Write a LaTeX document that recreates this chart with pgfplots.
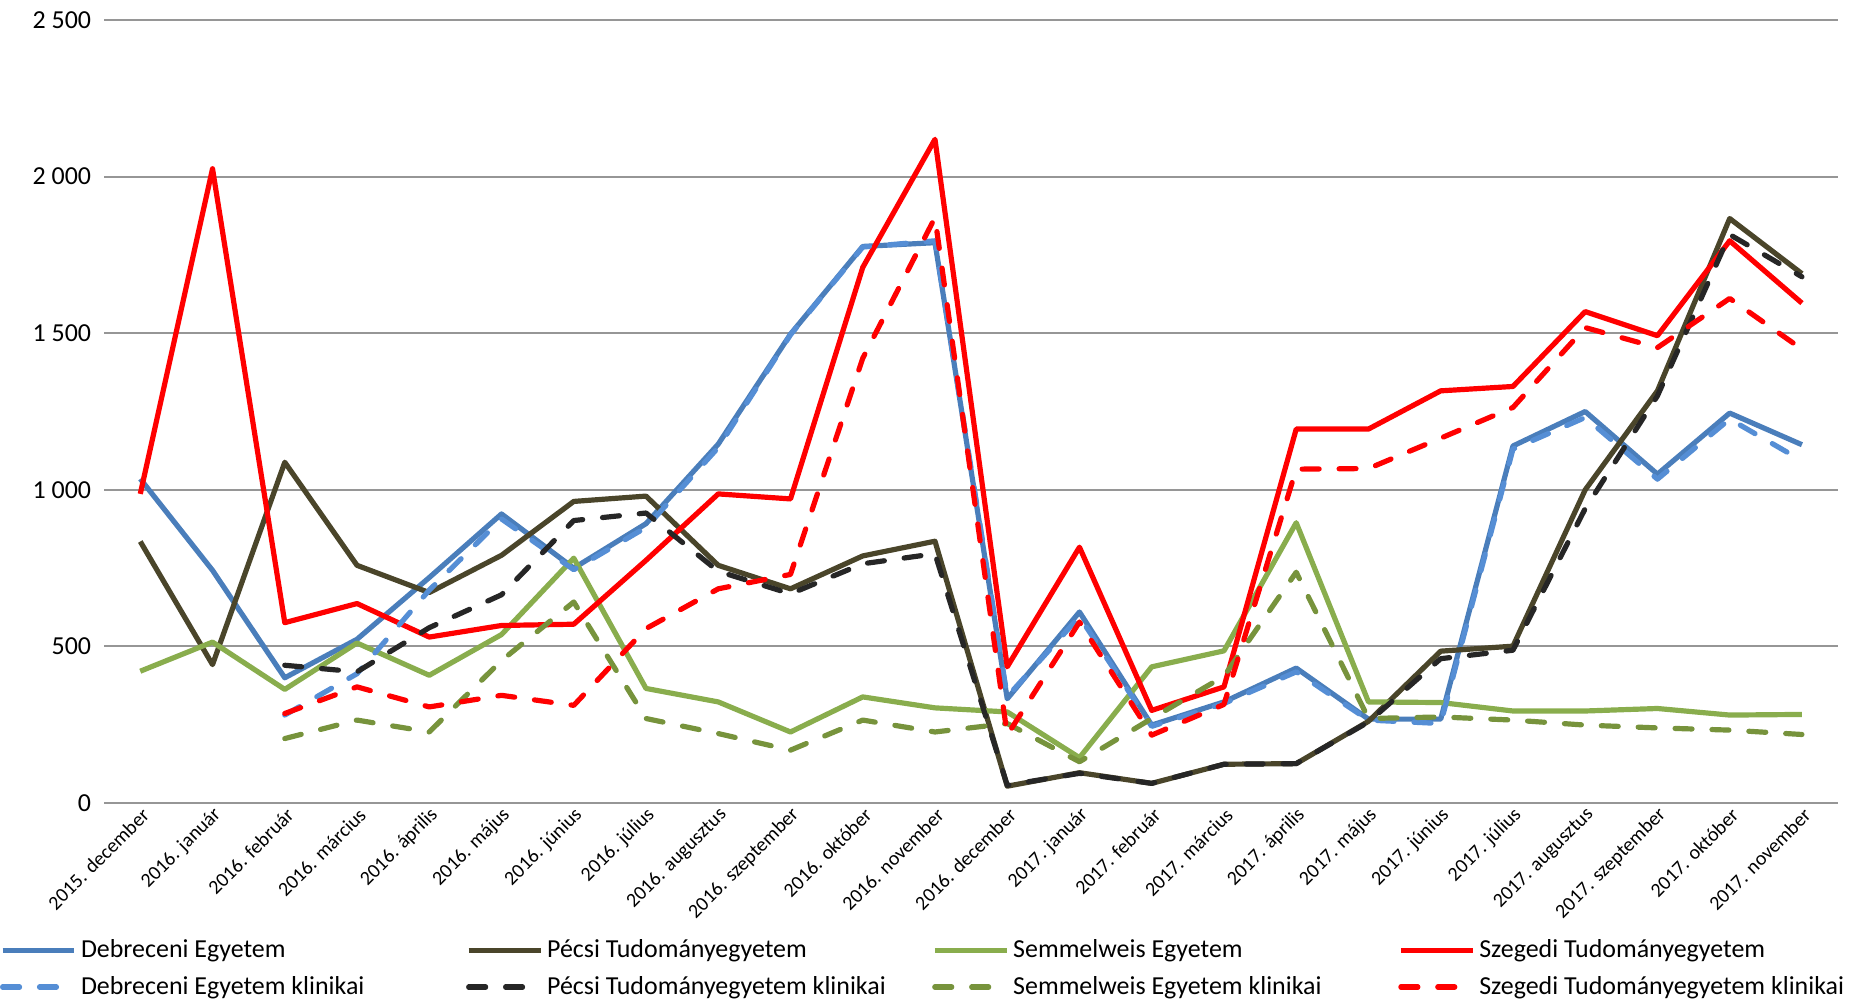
\documentclass[border=0pt]{standalone}
\usepackage{fontspec}
\setmainfont{Carlito}
\usepackage{pgfplots}
\usepackage{pgfplotstable}
\pgfplotsset{compat=1.18}
\definecolor{cde}{RGB}{74,126,187}
\definecolor{cdek}{RGB}{85,142,213}
\definecolor{cpte}{RGB}{74,69,42}
\definecolor{cptek}{RGB}{38,38,38}
\definecolor{cse}{RGB}{137,173,77}
\definecolor{csek}{RGB}{119,147,60}
\definecolor{csz}{RGB}{255,0,0}
\definecolor{gridgray}{RGB}{150,150,150}
\pgfplotstableread{
x de dek pte ptek se sek sz szk
0 1035 nan 835 nan 421 nan 987 nan
1 743 nan 442 nan 514 nan 2025 nan
2 400 281 1088 440 363 206 576 286
3 523 413 759 419 511 265 637 371
4 720 680 672 560 408 227 530 307
5 923 907 791 665 538 455 567 344
6 750 745 963 902 782 642 571 312
7 892 880 980 926 366 270 775 557
8 1146 1135 759 740 323 222 987 684
9 1497 1495 684 668 227 169 971 730
10 1777 1775 789 764 339 265 1710 1420
11 1789 1795 836 796 304 227 2119 1869
12 333 340 54 57 291 254 435 217
13 610 595 97 95 145 132 817 578
14 249 245 63 63 435 270 296 217
15 323 318 124 124 486 405 371 315
16 431 419 126 126 895 737 1194 1066
17 268 265 261 259 323 270 1194 1068
18 268 254 485 461 321 275 1316 1165
19 1140 1130 501 488 294 265 1330 1263
20 1250 1231 1000 940 294 249 1569 1518
21 1050 1034 1316 1300 302 240 1492 1454
22 1245 1226 1866 1815 281 233 1795 1611
23 1144 1093 1690 1680 283 219 1596 1449
}\datatable
\begin{document}
\begin{tikzpicture}
\begin{axis}[
  scale only axis, width=869pt, height=392.5pt,
  xmin=-0.5, xmax=23.5, ymin=0, ymax=2500,
  clip=false,
  axis line style={draw=none},
  major tick length=0pt,
  ymajorgrids, grid style={gridgray, line width=1pt},
  ytick={0,500,1000,1500,2000,2500},
  yticklabels={0,500,1 000,1 500,2 000,2 500},
  yticklabel style={font=\fontsize{13}{15}\selectfont, xshift=-3pt},
  xtick={0,...,23},
  xticklabels={2015. december,2016. január,2016. február,2016. március,2016. április,2016. május,2016. június,2016. július,2016. augusztus,2016. szeptember,2016. október,2016. november,2016. december,2017. január,2017. február,2017. március,2017. április,2017. május,2017. június,2017. július,2017. augusztus,2017. szeptember,2017. október,2017. november},
  xticklabel style={font=\fontsize{10}{12}\selectfont, rotate=45, anchor=east, inner sep=1pt, yshift=-5pt},
  unbounded coords=jump,
  every axis plot/.append style={line width=2.6pt, line join=round},
  legend columns=4,
  legend cell align=left,
  legend style={at={(-0.0603,-0.1687)}, anchor=north west, draw=none, fill=none,
    font=\fontsize{13}{15}\selectfont, inner sep=0pt, row sep=4pt,
    /tikz/every even column/.append style={column sep=2pt}},
  legend image code/.code={\draw[#1] (0pt,0pt) -- (36pt,0pt);},
]
\addplot[cde] table[x=x,y=de]{\datatable};
\addlegendentry{\makebox[189pt][l]{Debreceni Egyetem}}
\addplot[cpte] table[x=x,y=pte]{\datatable};
\addlegendentry{\makebox[189pt][l]{Pécsi Tudományegyetem}}
\addplot[cse] table[x=x,y=se]{\datatable};
\addlegendentry{\makebox[189pt][l]{Semmelweis Egyetem}}
\addplot[csz] table[x=x,y=sz]{\datatable};
\addlegendentry{Szegedi Tudományegyetem}
\addplot[cdek, line cap=round, dash pattern=on 8.5pt off 10pt] table[x=x,y=dek]{\datatable};
\addlegendentry{\makebox[189pt][l]{Debreceni Egyetem klinikai}}
\addplot[cptek, line cap=round, dash pattern=on 8.5pt off 10pt] table[x=x,y=ptek]{\datatable};
\addlegendentry{\makebox[189pt][l]{Pécsi Tudományegyetem klinikai}}
\addplot[csek, line cap=round, dash pattern=on 8.5pt off 10pt] table[x=x,y=sek]{\datatable};
\addlegendentry{\makebox[189pt][l]{Semmelweis Egyetem klinikai}}
\addplot[csz, line cap=round, dash pattern=on 8.5pt off 10pt] table[x=x,y=szk]{\datatable};
\addlegendentry{Szegedi Tudományegyetem klinikai}
\path (rel axis cs:-0.05754,-0.24713) rectangle (rel axis cs:1.01151,1.02548);
\end{axis}
\end{tikzpicture}
\end{document}
